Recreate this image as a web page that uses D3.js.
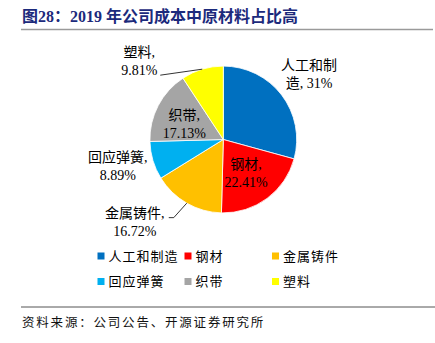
<!DOCTYPE html>
<html><head><meta charset="utf-8">
<script src="https://cdn.jsdelivr.net/npm/d3@7/dist/d3.min.js"></script>
<style>
body{margin:0;background:#fff;}
svg{display:block;font-family:"Liberation Serif","Noto Sans CJK SC",serif;}
</style></head>
<body><div id="chart"></div>
<script>
const title = "图28：2019 年公司成本中原材料占比高";
const source = "资料来源：公司公告、开源证券研究所";
const categories = ["人工和制造","钢材","金属铸件","回应弹簧","织带","塑料"];
const values = [31, 22.41, 16.72, 8.89, 17.13, 9.81];
const colors = ["#0070C0","#FF0000","#FFC000","#00B0F0","#A5A5A5","#FFFF00"];
const legendOrder = [0,1,2,3,4,5];

const W = 435, H = 343;
const svg = d3.select("#chart").append("svg").attr("width", W).attr("height", H);

// title
svg.append("text").attr("x", 22).attr("y", 22)
  .attr("font-size", 16).attr("font-weight", "bold").attr("fill", "#1c2a7c")
  .text(title);
svg.append("line").attr("x1", 21).attr("x2", 433).attr("y1", 29.5).attr("y2", 29.5)
  .attr("stroke", "#9a9a9a").attr("stroke-width", 1.6);

// pie
const cx = 223.3, cy = 139.5, R = 73.4;
const pie = d3.pie().sort(null).value(d => d)(values);
const arc = d3.arc().innerRadius(0).outerRadius(R);
const g = svg.append("g").attr("transform", `translate(${cx},${cy})`);
g.selectAll("path").data(pie).enter().append("path")
  .attr("d", arc).attr("fill", (d, i) => colors[i])
  .attr("stroke", "#fff").attr("stroke-width", 0.8);

// labels: position relative to slice mid-angle
const layout = [
  {lines: d => [d.cat.slice(0,4), d.cat.slice(4) + ", " + d.val + "%"], r: 1.47, dx: 0, dy: 0},
  {lines: d => [d.cat + ",", d.val + "%"], r: 0.52, dx: 0, dy: 3},
  {lines: d => [d.cat + ",", d.val + "%"], r: 1.0, dx: -52, dy: 19, leader: true, lx: 34, ly: -4.5, bend: 5},
  {lines: d => [d.cat + ",", d.val + "%"], r: 1.5, dx: 0, dy: -5},
  {lines: d => [d.cat + ",", d.val + "%"], r: 0.6, dx: 0, dy: 5},
  {lines: d => [d.cat + ",", d.val + "%"], r: 1.0, dx: -63, dy: -8, leader: true, lx: 21, ly: 14, bend: 0}
];
const lineH = 18;
pie.forEach((p, i) => {
  const L = layout[i];
  const a = (p.startAngle + p.endAngle) / 2;
  const ex = Math.sin(a) * R, ey = -Math.cos(a) * R;
  const px = Math.sin(a) * R * L.r + L.dx, py = -Math.cos(a) * R * L.r + L.dy;
  const lines = L.lines({cat: categories[i], val: values[i]});
  const t = g.append("text").attr("text-anchor", "middle")
    .attr("font-size", 14).attr("fill", "#000");
  lines.forEach((s, k) => {
    t.append("tspan").attr("x", px).attr("y", py + (k - (lines.length - 1) / 2) * lineH)
      .attr("dy", "0.35em").text(s);
  });
  if (L.leader) {
    const sx = px + L.lx, sy = py + L.ly;
    const pts = L.bend ? [[sx, sy], [sx + L.bend, sy], [ex, ey]] : [[sx, sy], [ex, ey]];
    g.append("path").attr("d", d3.line()(pts)).attr("fill", "none")
      .attr("stroke", "#000").attr("stroke-width", 0.8);
  }
});

// legend
const legX = [97.5, 184.5, 272], legY = [256, 281.5];
legendOrder.forEach((idx, k) => {
  const x = legX[k % 3], y = legY[Math.floor(k / 3)];
  svg.append("rect").attr("x", x).attr("y", y - 3.5).attr("width", 7).attr("height", 7).attr("fill", colors[idx]);
  svg.append("text").attr("x", x + 11).attr("y", y).attr("dy", "0.35em")
    .attr("font-size", 13).attr("letter-spacing", 1).attr("fill", "#000").text(categories[idx]);
});

// source
svg.append("line").attr("x1", 21).attr("x2", 435).attr("y1", 307).attr("y2", 307)
  .attr("stroke", "#555").attr("stroke-width", 1);
svg.append("text").attr("x", 22).attr("y", 323).attr("dy", "0.35em")
  .attr("font-size", 12.5).attr("letter-spacing", 1.8).attr("fill", "#111").text(source);
</script></body></html>
